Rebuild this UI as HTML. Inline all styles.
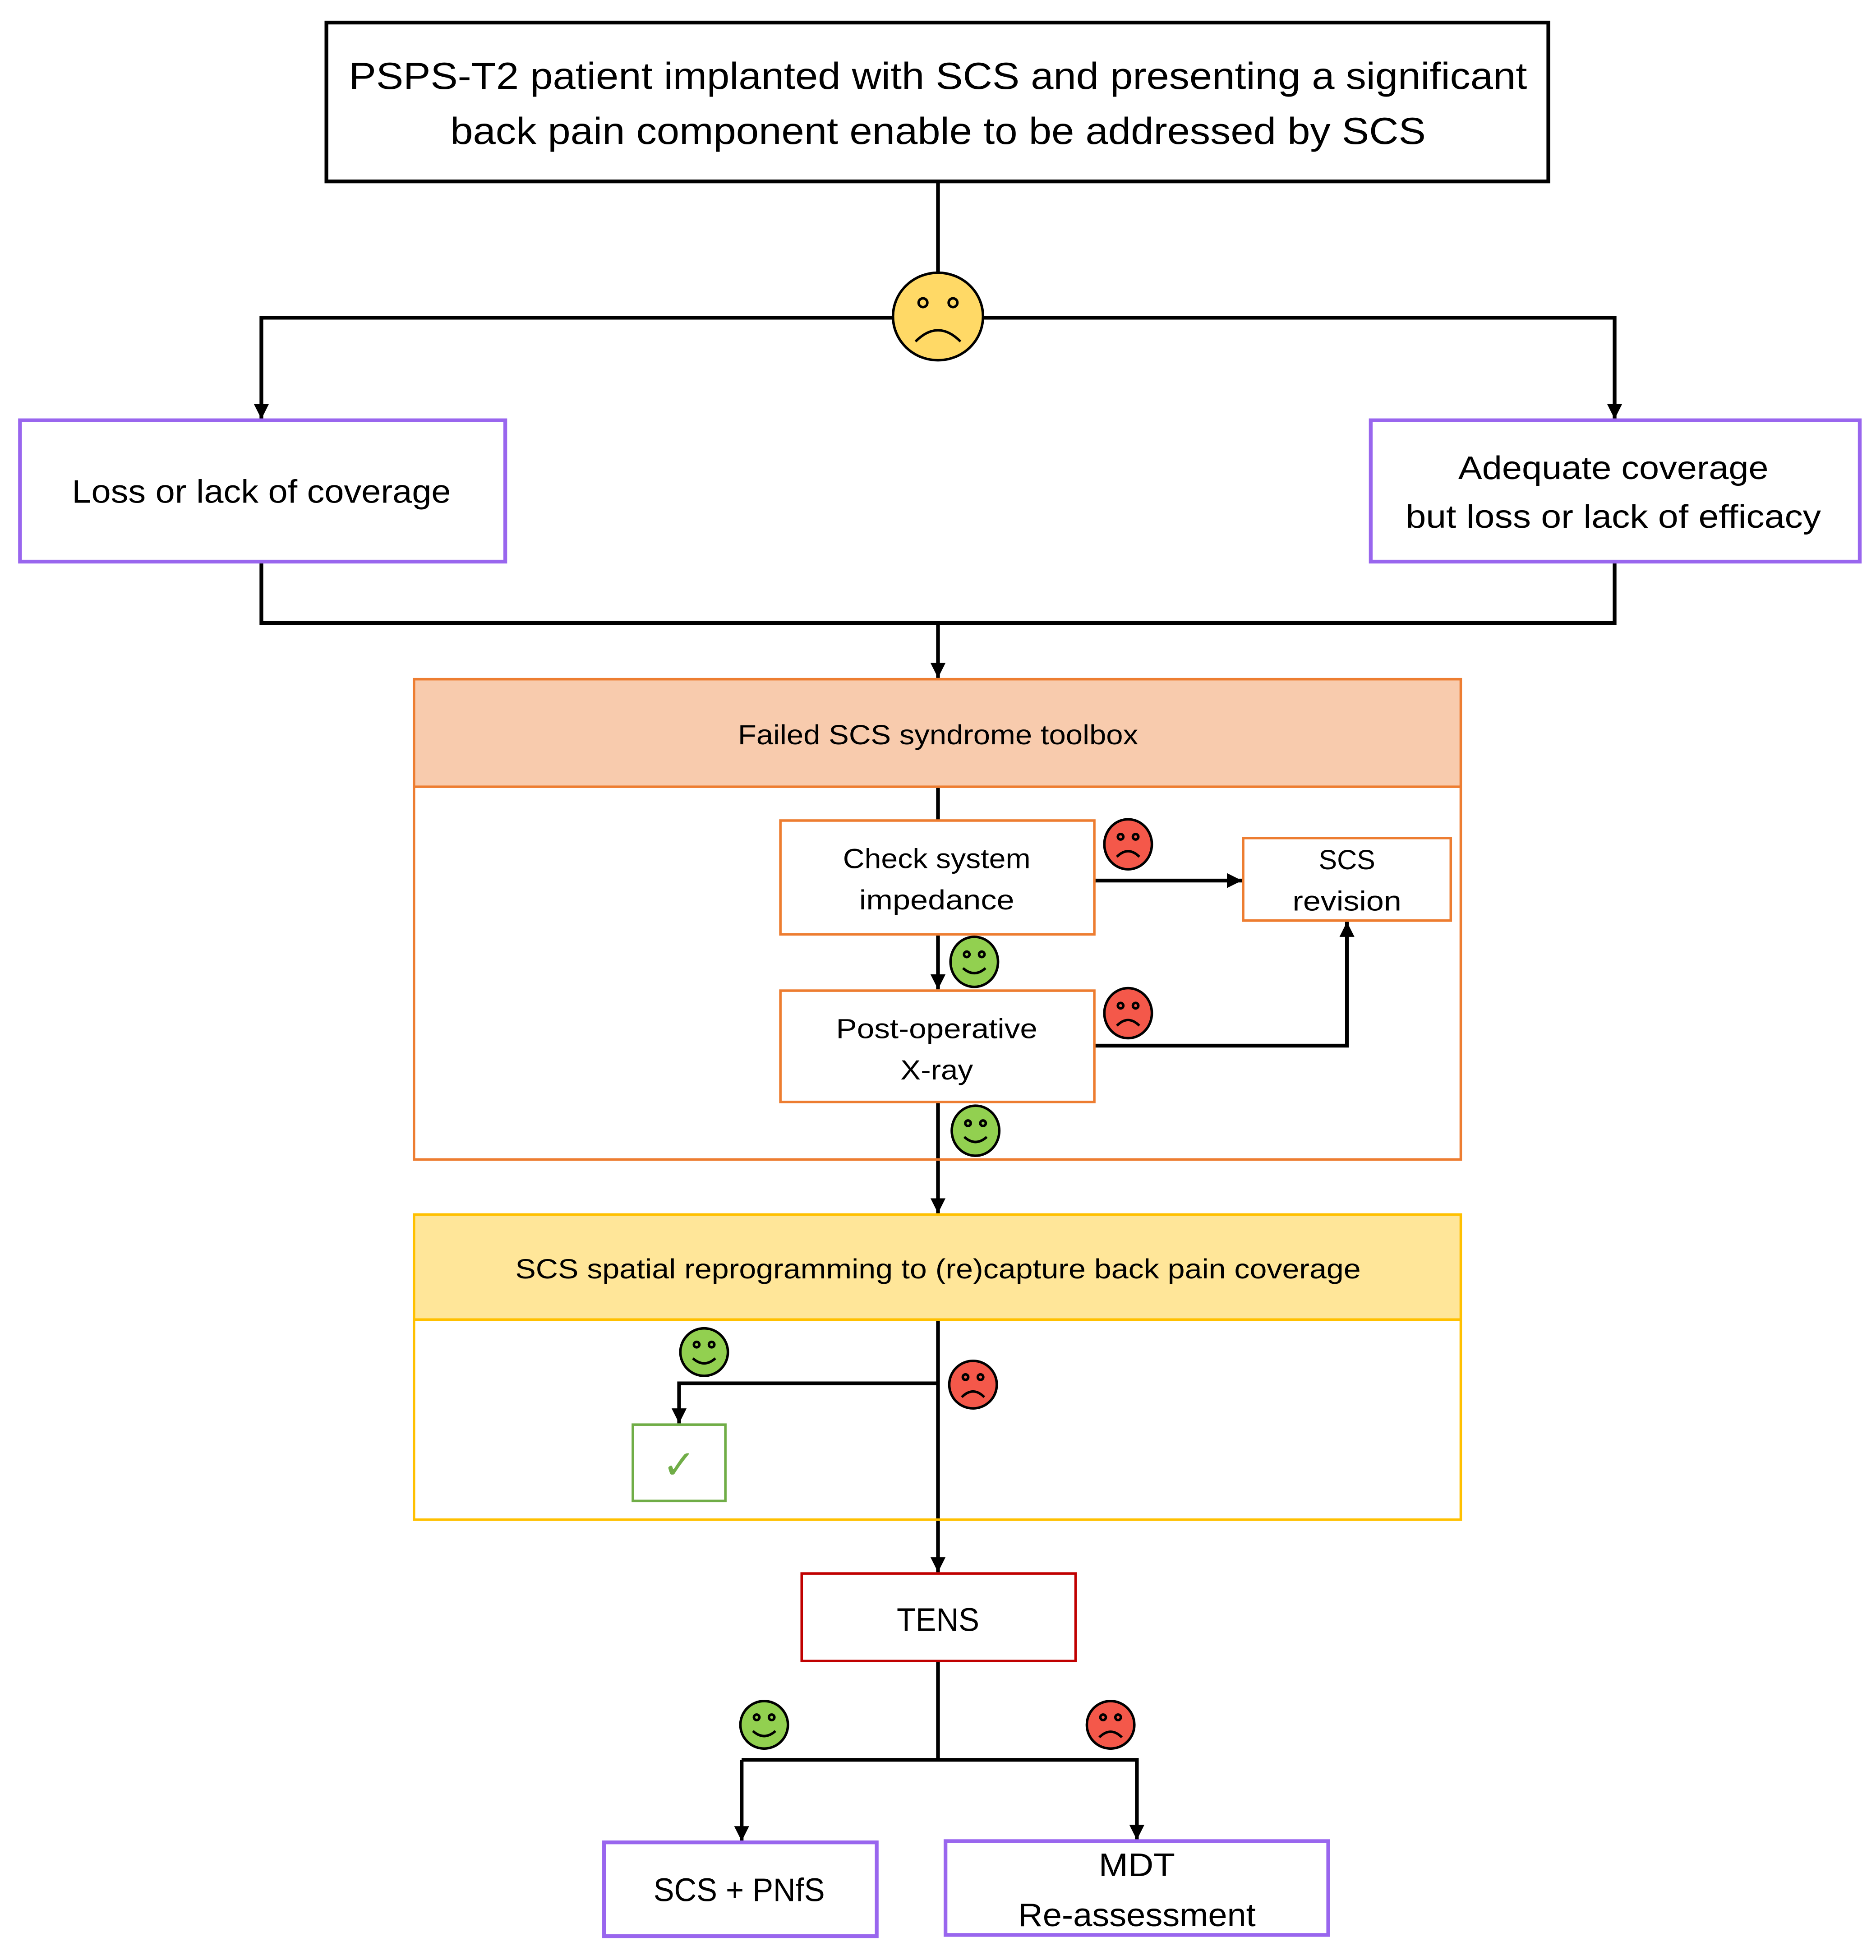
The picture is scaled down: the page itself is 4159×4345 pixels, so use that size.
<!DOCTYPE html>
<html><head><meta charset="utf-8"><style>html,body{margin:0;padding:0;background:#fff}svg{display:block}</style></head>
<body>
<svg xmlns="http://www.w3.org/2000/svg" width="4159" height="4345" viewBox="0 0 1500 1567" font-family="Liberation Sans, sans-serif">
<defs>
<marker id="b" viewBox="0 0 10 10" refX="10" refY="5" markerWidth="12" markerHeight="12" orient="auto" markerUnits="userSpaceOnUse"><path d="M0,0L10,5L0,10z" fill="#000"/></marker>
</defs>
<rect width="1500" height="1567" fill="#fff"/>
<g fill="none" stroke="#000" stroke-width="3">
<rect x="261" y="18" width="977" height="127"/>
<line x1="750" y1="145" x2="750" y2="220"/>
<path d="M714,254H209V335" marker-end="url(#b)"/>
<path d="M786,254H1291V335" marker-end="url(#b)"/>
<path d="M209,449V498H1291V449"/>
<line x1="750" y1="498" x2="750" y2="542" marker-end="url(#b)"/>
<line x1="750" y1="629" x2="750" y2="656"/>
<line x1="875" y1="704" x2="993" y2="704" marker-end="url(#b)"/>
<line x1="750" y1="747" x2="750" y2="791" marker-end="url(#b)"/>
<path d="M875,836H1077V737" marker-end="url(#b)"/>
<line x1="750" y1="881" x2="750" y2="970" marker-end="url(#b)"/>
<line x1="750" y1="1055" x2="750" y2="1257" marker-end="url(#b)"/>
<path d="M750,1106H543V1138" marker-end="url(#b)"/>
<line x1="750" y1="1328" x2="750" y2="1407"/>
<path d="M593,1407H909V1471" marker-end="url(#b)"/>
<line x1="593" y1="1407" x2="593" y2="1472" marker-end="url(#b)"/>
</g>
<g fill="none" stroke="#9966EE" stroke-width="3">
<rect x="16" y="336" width="388" height="113"/>
<rect x="1096" y="336" width="391" height="113"/>
<rect x="483" y="1473" width="218" height="75"/>
<rect x="756" y="1472" width="306" height="75"/>
</g>
<rect x="331" y="543" width="837" height="86" fill="#F8CBAD" stroke="none"/>
<g fill="none" stroke="#ED7D31" stroke-width="2">
<rect x="331" y="543" width="837" height="384"/>
<line x1="331" y1="629" x2="1168" y2="629"/>
<rect x="624" y="656" width="251" height="91" fill="#fff"/>
<rect x="994" y="670" width="166" height="66" fill="#fff"/>
<rect x="624" y="792" width="251" height="89" fill="#fff"/>
</g>
<rect x="331" y="971" width="837" height="84" fill="#FFE699"/>
<g fill="none" stroke="#FFC000" stroke-width="2">
<rect x="331" y="971" width="837" height="244"/>
<line x1="331" y1="1055" x2="1168" y2="1055"/>
</g>
<rect x="506" y="1139" width="74" height="61" fill="#fff" stroke="#70AD47" stroke-width="2"/>
<rect x="641" y="1258" width="219" height="70" fill="#fff" stroke="#C00000" stroke-width="2"/>
<g stroke="#000" stroke-width="2">
<ellipse cx="750" cy="253" rx="36" ry="35" fill="#FFD966"/>
<circle cx="738" cy="242" r="3.5" fill="none"/><circle cx="762" cy="242" r="3.5" fill="none"/>
<path d="M732,273 Q750,255 768,273" fill="none"/>
</g>
<g stroke="#000" stroke-width="2" fill="none">
<g transform="translate(902,675)"><ellipse rx="19" ry="20" fill="#F4584A"/><circle cx="-6" cy="-6" r="2.2"/><circle cx="6" cy="-6" r="2.2"/><path d="M-9,10 Q0,1 9,10"/></g>
<g transform="translate(902,810)"><ellipse rx="19" ry="20" fill="#F4584A"/><circle cx="-6" cy="-6" r="2.2"/><circle cx="6" cy="-6" r="2.2"/><path d="M-9,10 Q0,1 9,10"/></g>
<g transform="translate(778,1107)"><ellipse rx="19" ry="19" fill="#F4584A"/><circle cx="-6" cy="-6" r="2.2"/><circle cx="6" cy="-6" r="2.2"/><path d="M-9,10 Q0,1 9,10"/></g>
<g transform="translate(888,1379)"><ellipse rx="19" ry="19" fill="#F4584A"/><circle cx="-6" cy="-6" r="2.2"/><circle cx="6" cy="-6" r="2.2"/><path d="M-9,10 Q0,1 9,10"/></g>
<g transform="translate(779,769)"><ellipse rx="19" ry="20" fill="#92D050"/><circle cx="-6" cy="-6" r="2.2"/><circle cx="6" cy="-6" r="2.2"/><path d="M-9,5 Q0,13 9,5"/></g>
<g transform="translate(780,904)"><ellipse rx="19" ry="20" fill="#92D050"/><circle cx="-6" cy="-6" r="2.2"/><circle cx="6" cy="-6" r="2.2"/><path d="M-9,5 Q0,13 9,5"/></g>
<g transform="translate(563,1081)"><ellipse rx="19" ry="19" fill="#92D050"/><circle cx="-6" cy="-6" r="2.2"/><circle cx="6" cy="-6" r="2.2"/><path d="M-9,5 Q0,13 9,5"/></g>
<g transform="translate(611,1379)"><ellipse rx="19" ry="19" fill="#92D050"/><circle cx="-6" cy="-6" r="2.2"/><circle cx="6" cy="-6" r="2.2"/><path d="M-9,5 Q0,13 9,5"/></g>
</g>
<g fill="#000" text-anchor="middle">
<text x="750" y="71" font-size="30" textLength="942" lengthAdjust="spacingAndGlyphs">PSPS-T2 patient implanted with SCS and presenting a significant</text>
<text x="750" y="115" font-size="30" textLength="780" lengthAdjust="spacingAndGlyphs">back pain component enable to be addressed by SCS</text>
<text x="209" y="402" font-size="26" textLength="303" lengthAdjust="spacingAndGlyphs">Loss or lack of coverage</text>
<text x="1290" y="383" font-size="26" textLength="248" lengthAdjust="spacingAndGlyphs">Adequate coverage</text>
<text x="1290" y="422" font-size="26" textLength="332" lengthAdjust="spacingAndGlyphs">but loss or lack of efficacy</text>
<text x="750" y="595" font-size="22" textLength="320" lengthAdjust="spacingAndGlyphs">Failed SCS syndrome toolbox</text>
<text x="749" y="694" font-size="22" textLength="150" lengthAdjust="spacingAndGlyphs">Check system</text>
<text x="749" y="727" font-size="22" textLength="124" lengthAdjust="spacingAndGlyphs">impedance</text>
<text x="1077" y="695" font-size="22">SCS</text>
<text x="1077" y="728" font-size="22" textLength="87" lengthAdjust="spacingAndGlyphs">revision</text>
<text x="749" y="830" font-size="22" textLength="161" lengthAdjust="spacingAndGlyphs">Post-operative</text>
<text x="749" y="863" font-size="22" textLength="58" lengthAdjust="spacingAndGlyphs">X-ray</text>
<text x="750" y="1022" font-size="22" textLength="676" lengthAdjust="spacingAndGlyphs">SCS spatial reprogramming to (re)capture back pain coverage</text>
<text x="543" y="1182" font-size="32" fill="#70AD47" font-family="DejaVu Sans, sans-serif">✓</text>
<text x="750" y="1304" font-size="26" textLength="66" lengthAdjust="spacingAndGlyphs">TENS</text>
<text x="591" y="1520" font-size="26" textLength="137" lengthAdjust="spacingAndGlyphs">SCS + PNfS</text>
<text x="909" y="1500" font-size="26" textLength="61" lengthAdjust="spacingAndGlyphs">MDT</text>
<text x="909" y="1540" font-size="26" textLength="190" lengthAdjust="spacingAndGlyphs">Re-assessment</text>
</g>
</svg>
</body></html>
